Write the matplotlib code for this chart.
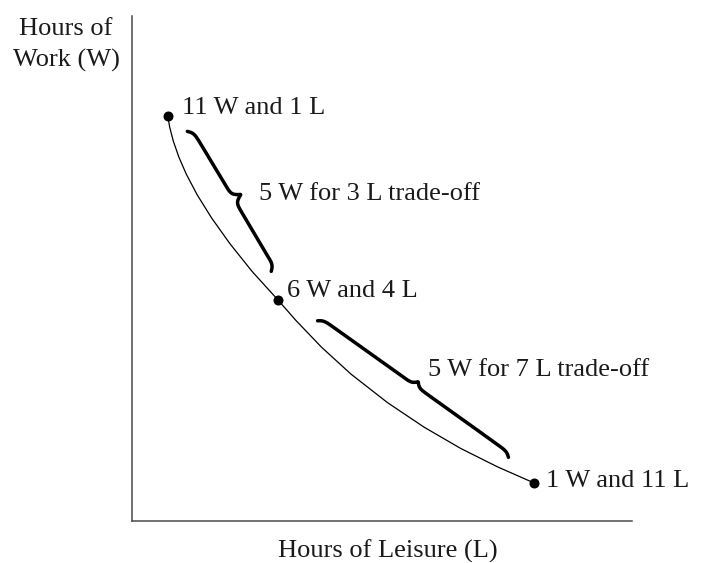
import numpy as np
import matplotlib
matplotlib.use("Agg")
import matplotlib.pyplot as plt

plt.rcParams['font.family'] = ['Liberation Serif', 'DejaVu Serif']

# the three marked bundles (leisure hours, work hours)
leisure_pts = [1, 4, 11]
work_pts = [11, 6, 1]
point_labels = ['11 W and 1 L', '6 W and 4 L', '1 W and 11 L']

# indifference curve
curve_L = [1.0, 1.05, 1.15, 1.3, 1.5, 1.8, 2.2, 2.7, 3.3, 4.0,
           4.5, 5.2, 6.0, 7.0, 8.0, 9.0, 10.0, 11.0]
curve_W = [11.0, 10.70, 10.32, 9.89, 9.43, 8.86, 8.22, 7.52, 6.77, 6.0,
           5.43, 4.70, 3.97, 3.19, 2.52, 1.94, 1.44, 1.0]

tradeoff_labels = ['5 W for 3 L trade-off', '5 W for 7 L trade-off']

FS = 19

fig = plt.figure(figsize=(7.03, 5.63), dpi=100)
ax = fig.add_axes([0.1878, 0.0746, 0.7112, 0.897])
ax.set_xlim(0.02, 13.68)
ax.set_ylim(-0.04, 13.74)
for side in ['top', 'right']:
    ax.spines[side].set_visible(False)
for side in ['left', 'bottom']:
    ax.spines[side].set_color('#4a4a4a')
    ax.spines[side].set_linewidth(1.1)
ax.set_xticks([])
ax.set_yticks([])

ax.plot(curve_L, curve_W, color='black', lw=0.9)
ax.plot(leisure_pts, work_pts, 'o', color='black', ms=6.2)


def brace(i, j, f0, f1, offset, hook, cusp):
    # curly brace alongside the chord between point i and point j (pixel units)
    a = ax.transData.transform((leisure_pts[i], work_pts[i]))
    b = ax.transData.transform((leisure_pts[j], work_pts[j]))
    v = b - a
    length = np.hypot(*v)
    u = v / length
    n = np.array([-u[1], u[0]])
    lb = (f1 - f0) * length
    s = np.linspace(0, lb, 500)
    sm = np.minimum(s, lb - s)
    h = hook * (2 / (1 + np.exp(-0.4 * sm)) - 1) \
        + cusp * 2 / (1 + np.exp(-0.45 * (sm - lb / 2)))
    pts = a + u * (f0 * length + s)[:, None] + n * (offset - hook + h)[:, None]
    d = ax.transData.inverted().transform(pts)
    ax.plot(d[:, 0], d[:, 1], color='black', lw=2.5, solid_capstyle='round')


brace(0, 1, 0.107, 0.871, 14, 5, 8.5)
brace(1, 2, 0.142, 0.887, 10, 4, 5)

offsets = [(10.4, 1.9), (6.5, 1.7), (8.6, -3.2)]
for L, W, lab, off in zip(leisure_pts, work_pts, point_labels, offsets):
    ax.annotate(lab, (L, W), xytext=off, textcoords='offset points',
                fontsize=FS, ha='left', va='baseline', color='#1a1a1a')

ax.text(3.49, 8.72, tradeoff_labels[0], fontsize=FS, ha='left', va='baseline',
        color='#1a1a1a')
ax.text(8.12, 3.92, tradeoff_labels[1], fontsize=FS, ha='left', va='baseline',
        color='#1a1a1a')

ax.text(0.512, -0.0733, 'Hours of Leisure (L)', transform=ax.transAxes,
        fontsize=FS, ha='center', va='baseline', color='#1a1a1a')
ax.text(-0.132, 0.9624, 'Hours of', transform=ax.transAxes,
        fontsize=FS, ha='center', va='baseline', color='#1a1a1a')
ax.text(-0.132, 0.899, 'Work (W)', transform=ax.transAxes,
        fontsize=FS, ha='center', va='baseline', color='#1a1a1a')

fig.savefig('out.png', dpi=100)
